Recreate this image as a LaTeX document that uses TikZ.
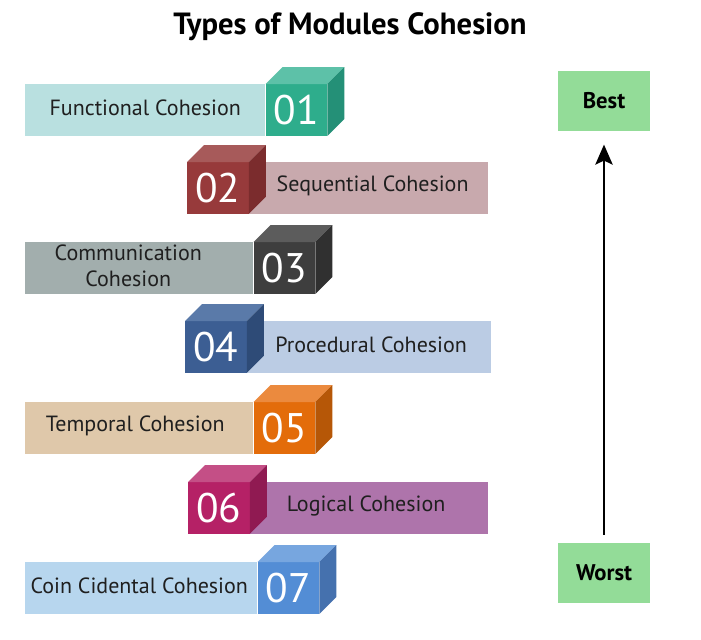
\documentclass[tikz,border=0pt]{standalone}
\usepackage{fontspec}
\setmainfont{PT Sans}
\usetikzlibrary{arrows.meta}
\definecolor{c1bar}{HTML}{B9E0E0}\definecolor{c1front}{HTML}{2EAD8C}\definecolor{c1top}{HTML}{5DC1A8}\definecolor{c1side}{HTML}{249077}
\definecolor{c2bar}{HTML}{C8A9AD}\definecolor{c2front}{HTML}{973A3B}\definecolor{c2top}{HTML}{A75A5A}\definecolor{c2side}{HTML}{7B2C2D}
\definecolor{c3bar}{HTML}{A2AEAD}\definecolor{c3front}{HTML}{3E3E3E}\definecolor{c3top}{HTML}{5C5C5C}\definecolor{c3side}{HTML}{303030}
\definecolor{c4bar}{HTML}{BBCCE4}\definecolor{c4front}{HTML}{3C5E93}\definecolor{c4top}{HTML}{5A7AA9}\definecolor{c4side}{HTML}{2E4B77}
\definecolor{c5bar}{HTML}{DFC8AA}\definecolor{c5front}{HTML}{E36C0A}\definecolor{c5top}{HTML}{EB8A3E}\definecolor{c5side}{HTML}{B65707}
\definecolor{c6bar}{HTML}{AE74AB}\definecolor{c6front}{HTML}{B52166}\definecolor{c6top}{HTML}{C44F86}\definecolor{c6side}{HTML}{901A52}
\definecolor{c7bar}{HTML}{B7D6EE}\definecolor{c7front}{HTML}{538DD5}\definecolor{c7top}{HTML}{77A6DF}\definecolor{c7side}{HTML}{4571AE}
\definecolor{gradefill}{HTML}{93DC98}
\tikzset{
  barbox/.style={rectangle, inner sep=0pt, minimum height=38.5pt, anchor=north west},
  lbl/.style={inner sep=0pt, font=\fontsize{16.5}{20}\selectfont, text=black!88, align=center},
  frontbox/.style={rectangle, inner sep=0pt, minimum height=38.5pt, minimum width=46pt, anchor=north west,
    font=\fontsize{31}{31}\selectfont, text=white},
  gradebox/.style={rectangle, fill=gradefill, inner sep=0pt, minimum width=69pt, minimum height=45pt,
    font=\bfseries\fontsize{17}{19}\selectfont},
}
% cube on the right: #1 id, #2 top y, #3 split x, #4 label, #5 number, #6 text offset (px)
\newcommand\cohRight[6]{%
  \node[barbox, fill=c#1bar, minimum width={(#3-25)*0.75pt}] (bar#1) at (25,#2) {};
  \node[lbl] (txt#1) at ([shift={(#6,-2)}]bar#1.center) {#4};
  \node[frontbox, fill=c#1front] (num#1) at (bar#1.north east) {#5};
  \fill[c#1top] (num#1.north west) -- ++(17,-17) -- ([shift={(17,-17)}]num#1.north east) -- (num#1.north east) -- cycle;
  \fill[c#1side] (num#1.north east) -- ++(17,-17) -- ([shift={(17,-17)}]num#1.south east) -- (num#1.south east) -- cycle;
}
% cube on the left: #1 id, #2 top y, #3 cube left x, #4 bar right x, #5 label, #6 number, #7 text offset (px)
\newcommand\cohLeft[7]{%
  \node[frontbox, fill=c#1front] (num#1) at (#3,#2) {#6};
  \node[barbox, fill=c#1bar, minimum width={(#4-#3-61)*0.75pt}] (bar#1) at (num#1.north east) {};
  \node[lbl] (txt#1) at ([shift={(#7,-2)}]bar#1.center) {#5};
  \fill[c#1top] (num#1.north west) -- ++(17,-17) -- ([shift={(17,-17)}]num#1.north east) -- (num#1.north east) -- cycle;
  \fill[c#1side] (num#1.north east) -- ++(17,-17) -- ([shift={(17,-17)}]num#1.south east) -- (num#1.south east) -- cycle;
}
\begin{document}
\begin{tikzpicture}[x=0.75pt, y=-0.75pt]
  \useasboundingbox (0,0) rectangle (701,640);
  \node[font=\bfseries\fontsize{23}{25}\selectfont] (title) at (350,27) {Types of Modules Cohesion};
  \cohRight{1}{84}{265}{Functional Cohesion}{01}{0}
  \cohLeft{2}{162}{187}{487}{Sequential Cohesion}{02}{4}
  \cohRight{3}{242}{253}{Communication\\Cohesion}{03}{-11}
  \cohLeft{4}{321}{185}{490}{Procedural Cohesion}{04}{2}
  \cohRight{5}{402}{253}{Temporal Cohesion}{05}{-4}
  \cohLeft{6}{482}{188}{487}{Logical Cohesion}{06}{-3}
  \cohRight{7}{562}{257}{Coin Cidental Cohesion}{07}{-2}
  \node[gradebox] (best) at (604,101) {Best};
  \node[gradebox] (worst) at (604,573) {Worst};
  \draw[line width=1.5pt, -{Stealth[length=15pt, width=13pt, inset=3pt]}, shorten <=6pt, shorten >=10pt]
    (worst.north) -- (best.south);
\end{tikzpicture}
\end{document}
